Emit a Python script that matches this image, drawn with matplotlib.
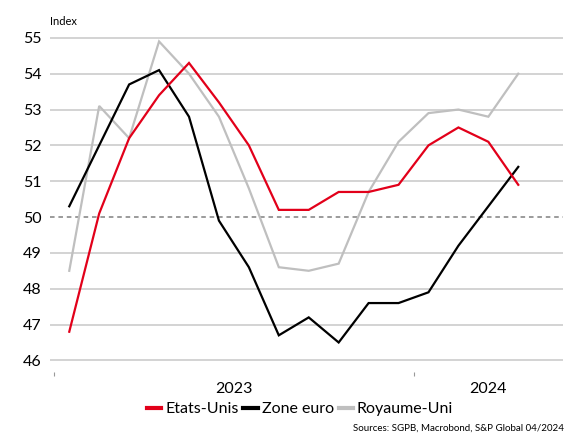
import matplotlib
matplotlib.use("Agg")
import matplotlib.pyplot as plt
from matplotlib.lines import Line2D

plt.rcParams["font.family"] = ["Lato", "DejaVu Sans"]

# monthly PMI, Jan 2023 - Apr 2024
months = list(range(16))
etats_unis = [46.8, 50.1, 52.2, 53.4, 54.3, 53.2, 52.0, 50.2,
              50.2, 50.7, 50.7, 50.9, 52.0, 52.5, 52.1, 50.9]
zone_euro = [50.3, 52.0, 53.7, 54.1, 52.8, 49.9, 48.6, 46.7,
             47.2, 46.5, 47.6, 47.6, 47.9, 49.2, 50.3, 51.4]
royaume_uni = [48.5, 53.1, 52.2, 54.9, 54.0, 52.8, 50.8, 48.6,
               48.5, 48.7, 50.7, 52.1, 52.9, 53.0, 52.8, 54.0]
series_names = ["Etats-Unis", "Zone euro", "Royaume-Uni"]
series_colors = ["#e2001a", "#000000", "#bfbfbf"]
year_labels = ["2023", "2024"]
year_bounds = [-0.5, 11.5, 16.5]
y_ticks = [46, 47, 48, 49, 50, 51, 52, 53, 54, 55]


def main():
    fig = plt.figure(figsize=(5.66, 4.38), dpi=100)
    ax = fig.add_axes([0.088, 0.151, 0.907, 0.765])

    for y in y_ticks:
        if y == 50:
            continue
        ax.axhline(y, color="#c8c8c8", lw=1.1, zorder=0)
    ax.axhline(50, color="#808080", lw=1.1, ls=(0, (3, 2.5)), zorder=0)

    for values, color in zip([royaume_uni, zone_euro, etats_unis], series_colors[::-1]):
        ax.plot(months, values, color=color, lw=1.6, solid_joinstyle="miter")

    ax.set_xlim(-0.65, 16.5)
    ax.set_ylim(45.68, 55.03)
    for side in ["top", "right", "left", "bottom"]:
        ax.spines[side].set_visible(False)

    ax.set_yticks(y_ticks)
    ax.set_yticklabels([str(y) for y in y_ticks], fontsize=11.5)
    ax.tick_params(axis="y", length=0, pad=6)

    ax.set_xticks(year_bounds[:2])
    ax.set_xticklabels([])
    ax.tick_params(axis="x", length=3, color="#999999", width=0.8)
    for i, label in enumerate(year_labels):
        mid = (year_bounds[i] + year_bounds[i + 1]) / 2
        ax.text(mid, -0.03, label, transform=ax.get_xaxis_transform(),
                ha="center", va="top", fontsize=11.5)

    fig.text(0.088, 0.952, "Index", fontsize=8, ha="left", va="center")

    handles = [Line2D([], [], color=c, lw=3) for c in series_colors]
    fig.legend(handles, series_names, loc="center", bbox_to_anchor=(0.53, 0.066),
               ncol=3, frameon=False, fontsize=11.5, handlelength=0.9,
               handletextpad=0.25, columnspacing=0.3)

    fig.text(0.997, 0.012, "Sources: SGPB, Macrobond, S&P Global 04/2024",
             fontsize=7, ha="right", va="bottom")

    fig.savefig("out.png", dpi=100)


if __name__ == "__main__":
    main()
